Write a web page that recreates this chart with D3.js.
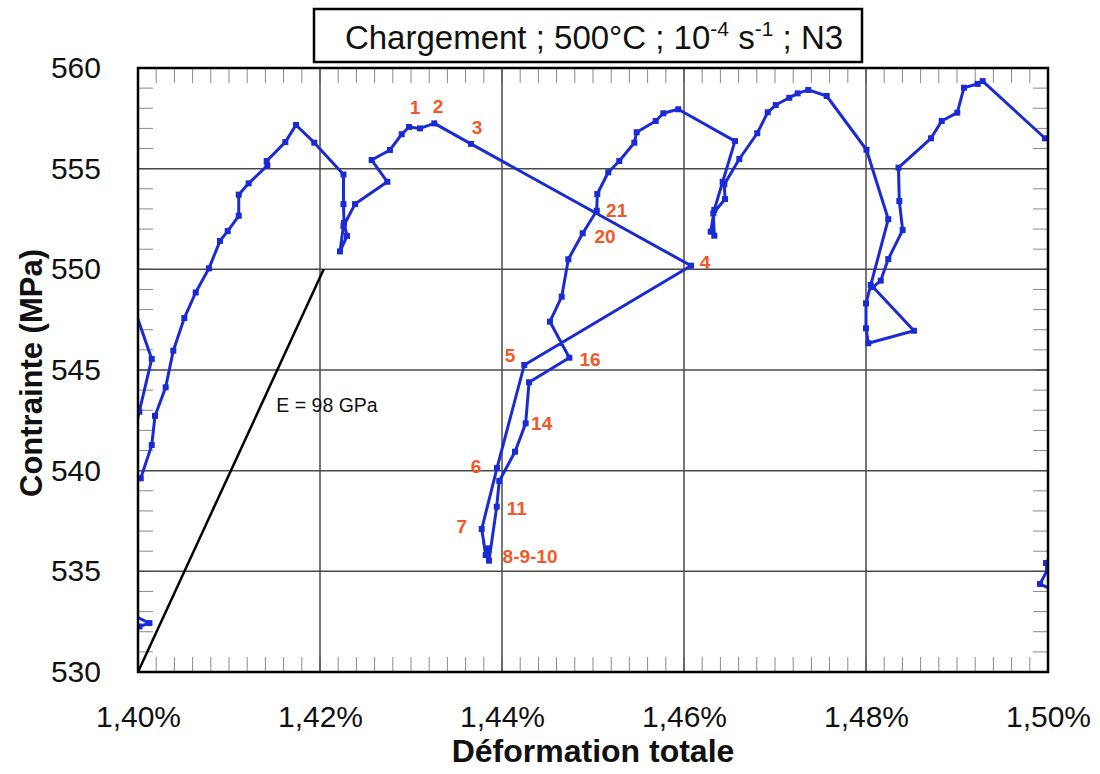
<!DOCTYPE html>
<html><head><meta charset="utf-8">
<script src="https://cdn.jsdelivr.net/npm/d3@7"></script>
<style>body{margin:0;background:#fff} text{font-family:"Liberation Sans",Arial,Helvetica,sans-serif}</style>
</head><body><svg id="c" width="1100" height="774"></svg>
<script>
// ---- data ----
const xTicks = [1.40, 1.42, 1.44, 1.46, 1.48, 1.50];
const xTickLabels = ["1,40%", "1,42%", "1,44%", "1,46%", "1,48%", "1,50%"];
const yTicks = [530, 535, 540, 545, 550, 555, 560];
const yTickLabels = ["530", "535", "540", "545", "550", "555", "560"];

// strain (%) , stress (MPa); points beyond the frame are clipped
const segLowLeft = [[1.39890,532.93],[1.40126,532.43],[1.40016,532.26],[1.39890,532.19]];
const segLeftEdge = [[1.39857,549.37],[1.40151,545.55],[1.40014,542.93],[1.39912,540.98]];
const segMain = [
 [1.40030,539.62],[1.40151,541.27],[1.40187,542.72],[1.40304,544.14],[1.40388,545.96],
 [1.40509,547.58],[1.40634,548.85],[1.40780,550.05],[1.40901,551.41],[1.40986,551.90],
 [1.41107,552.66],[1.41107,553.71],[1.41216,554.27],[1.41421,555.15],[1.41414,555.38],
 [1.41619,556.32],[1.41736,557.17],[1.41937,556.29],[1.42258,554.71],[1.42258,553.24],
 [1.42264,552.30],[1.42297,551.66],[1.42220,550.89],[1.42258,552.15],[1.42385,553.24],
 [1.42740,554.35],[1.42568,555.43],[1.42769,555.93],[1.42898,556.71],[1.42978,557.07],
 [1.43099,557.00],[1.43256,557.25],[1.43659,556.23],[1.46077,550.18],[1.44245,545.25],
 [1.43945,540.13],[1.43777,537.10],[1.43821,535.81],[1.43849,536.14],[1.43857,535.53],
 [1.43942,538.21],[1.43970,539.49],[1.44143,540.94],[1.44260,542.35],[1.44297,544.39],
 [1.44740,545.61],[1.44527,547.40],[1.44656,548.64],[1.44729,550.50],[1.44887,551.79],
 [1.45041,552.91],[1.45047,553.74],[1.45168,554.82],[1.45289,555.38],[1.45454,556.29],
 [1.45480,556.81],[1.45689,557.37],[1.45773,557.75],[1.45937,557.95],[1.46560,556.37],
 [1.46425,554.35],[1.46333,552.95],[1.46293,551.87],[1.46333,551.67],[1.46322,552.78],
 [1.46451,553.49],[1.46443,554.22],[1.46608,555.48],[1.46805,556.76],[1.46920,557.80],
 [1.47008,558.16],[1.47157,558.52],[1.47249,558.74],[1.47366,558.91],[1.47568,558.61],
 [1.48005,555.94],[1.48245,552.49],[1.48052,549.22],[1.48000,548.31],[1.48000,547.07],
 [1.48025,546.33],[1.48527,546.95],[1.48077,549.12],[1.48162,549.44],[1.48245,550.51],
 [1.48403,551.95],[1.48366,553.39],[1.48357,555.05],[1.48714,556.51],[1.48832,557.37],
 [1.49003,557.78],[1.49077,559.02],[1.49227,559.21],[1.49282,559.35],[1.49967,556.51],
 [1.50132,555.88]
];
const segLowRight = [[1.50110,536.31],[1.49978,535.41],[1.50000,535.12],[1.49912,534.37],[1.50110,533.97]];

const modulusLine = [[1.40, 530], [1.420408, 550]];
const modulusLabel = "E = 98 GPa";
const modulusLabelPos = [1.41520, 542.9];

const pointLabels = ["1","2","3","4","5","6","7","8-9-10","11","14","16","20","21"];
const pointLabelX = [1.43044,1.43297,1.43725,1.46231,1.44088,1.43714,1.43557,1.44308,1.44162,1.44436,1.44967,1.45132,1.45260];
const pointLabelY = [558.06,558.11,557.02,550.36,545.74,540.20,537.22,535.73,538.13,542.32,545.50,551.62,552.91];

// ---- drawing ----
const svg = d3.select("#c");
const L = 138, R = 1048, T = 68, B = 672;
const x = d3.scaleLinear().domain([1.40, 1.50]).range([L, R]);
const y = d3.scaleLinear().domain([530, 560]).range([B, T]);

svg.append("defs").append("clipPath").attr("id","clip")
  .append("rect").attr("x",L).attr("y",T).attr("width",R-L).attr("height",B-T);

// minor ticks
const minorX = d3.range(0, 51).map(i => 1.40 + i*0.002);
const minorY = d3.range(530, 561, 1);
const mt = svg.append("g").attr("stroke","#8a8a8a").attr("stroke-width",1);
minorX.forEach(v => {
  mt.append("line").attr("x1",x(v)).attr("x2",x(v)).attr("y1",B).attr("y2",B-15);
  mt.append("line").attr("x1",x(v)).attr("x2",x(v)).attr("y1",T).attr("y2",T+15);
});
minorY.forEach(v => {
  mt.append("line").attr("x1",L).attr("x2",L+15).attr("y1",y(v)).attr("y2",y(v));
  mt.append("line").attr("x1",R).attr("x2",R-15).attr("y1",y(v)).attr("y2",y(v));
});

// grid
const g = svg.append("g").attr("stroke","#4a4a4a").attr("stroke-width",1.5);
xTicks.slice(1,-1).forEach(v => g.append("line").attr("x1",x(v)).attr("x2",x(v)).attr("y1",T).attr("y2",B));
yTicks.slice(1,-1).forEach(v => g.append("line").attr("x1",L).attr("x2",R).attr("y1",y(v)).attr("y2",y(v)));

// axes labels via d3 axes
const xa = svg.append("g").attr("transform",`translate(0,${B})`)
  .call(d3.axisBottom(x).tickValues(xTicks).tickFormat((d,i)=>xTickLabels[i]).tickSize(0).tickPadding(34));
xa.select(".domain").remove();
xa.selectAll("text").attr("font-size",30).attr("font-family","Liberation Sans, Arial, sans-serif").attr("fill","#111");
const ya = svg.append("g").attr("transform",`translate(${L},0)`)
  .call(d3.axisLeft(y).tickValues(yTicks).tickFormat((d,i)=>yTickLabels[i]).tickSize(0).tickPadding(37));
ya.select(".domain").remove();
ya.selectAll("text").attr("font-size",30).attr("font-family","Liberation Sans, Arial, sans-serif").attr("fill","#111");

// modulus line
const line = d3.line().x(d=>x(d[0])).y(d=>y(d[1]));
svg.append("path").attr("d",line(modulusLine)).attr("fill","none").attr("stroke","#000").attr("stroke-width",2.5);
svg.append("text").attr("x",x(modulusLabelPos[0])).attr("y",y(modulusLabelPos[1])).attr("font-size",19.5)
  .attr("fill","#111").text(modulusLabel);

// data
const blue = "#1a2bd4";
const dg = svg.append("g").attr("clip-path","url(#clip)");
[segLowLeft, segLeftEdge, segMain, segLowRight].forEach(seg => {
  dg.append("path").attr("d",line(seg)).attr("fill","none").attr("stroke",blue)
    .attr("stroke-width",3).attr("stroke-linejoin","round");
  dg.selectAll(null).data(seg).enter().append("rect")
    .attr("x",d=>x(d[0])-3).attr("y",d=>y(d[1])-3).attr("width",6).attr("height",6).attr("fill",blue);
});

// point labels
svg.append("g").selectAll("text").data(pointLabels).enter().append("text")
  .attr("x",(d,i)=>x(pointLabelX[i])).attr("y",(d,i)=>y(pointLabelY[i]))
  .attr("text-anchor","middle").attr("dominant-baseline","central")
  .attr("font-size",19).attr("font-weight","bold").attr("fill","#f0582a").text(d=>d);

// frame
svg.append("rect").attr("x",L).attr("y",T).attr("width",R-L).attr("height",B-T)
  .attr("fill","none").attr("stroke","#000").attr("stroke-width",2.5);

// axis titles
svg.append("text").attr("x",593).attr("y",762).attr("text-anchor","middle")
  .attr("font-size",32).attr("font-weight","bold").attr("fill","#111").text("Déformation totale");
svg.append("text").attr("transform","translate(42,373) rotate(-90)").attr("text-anchor","middle")
  .attr("font-size",31).attr("font-weight","bold").attr("fill","#111").text("Contrainte (MPa)");

// title box
svg.append("rect").attr("x",314).attr("y",9).attr("width",548).attr("height",53)
  .attr("fill","#fff").attr("stroke","#000").attr("stroke-width",2.5);
const t = svg.append("text").attr("x",594).attr("y",49).attr("text-anchor","middle")
  .attr("font-size",33).attr("fill","#111");
t.append("tspan").text("Chargement ; 500°C ; 10");
t.append("tspan").attr("dy",-13).attr("font-size",21).text("-4");
t.append("tspan").attr("dy",13).text(" s");
t.append("tspan").attr("dy",-13).attr("font-size",21).text("-1");
t.append("tspan").attr("dy",13).text(" ; N3");
</script></body></html>
